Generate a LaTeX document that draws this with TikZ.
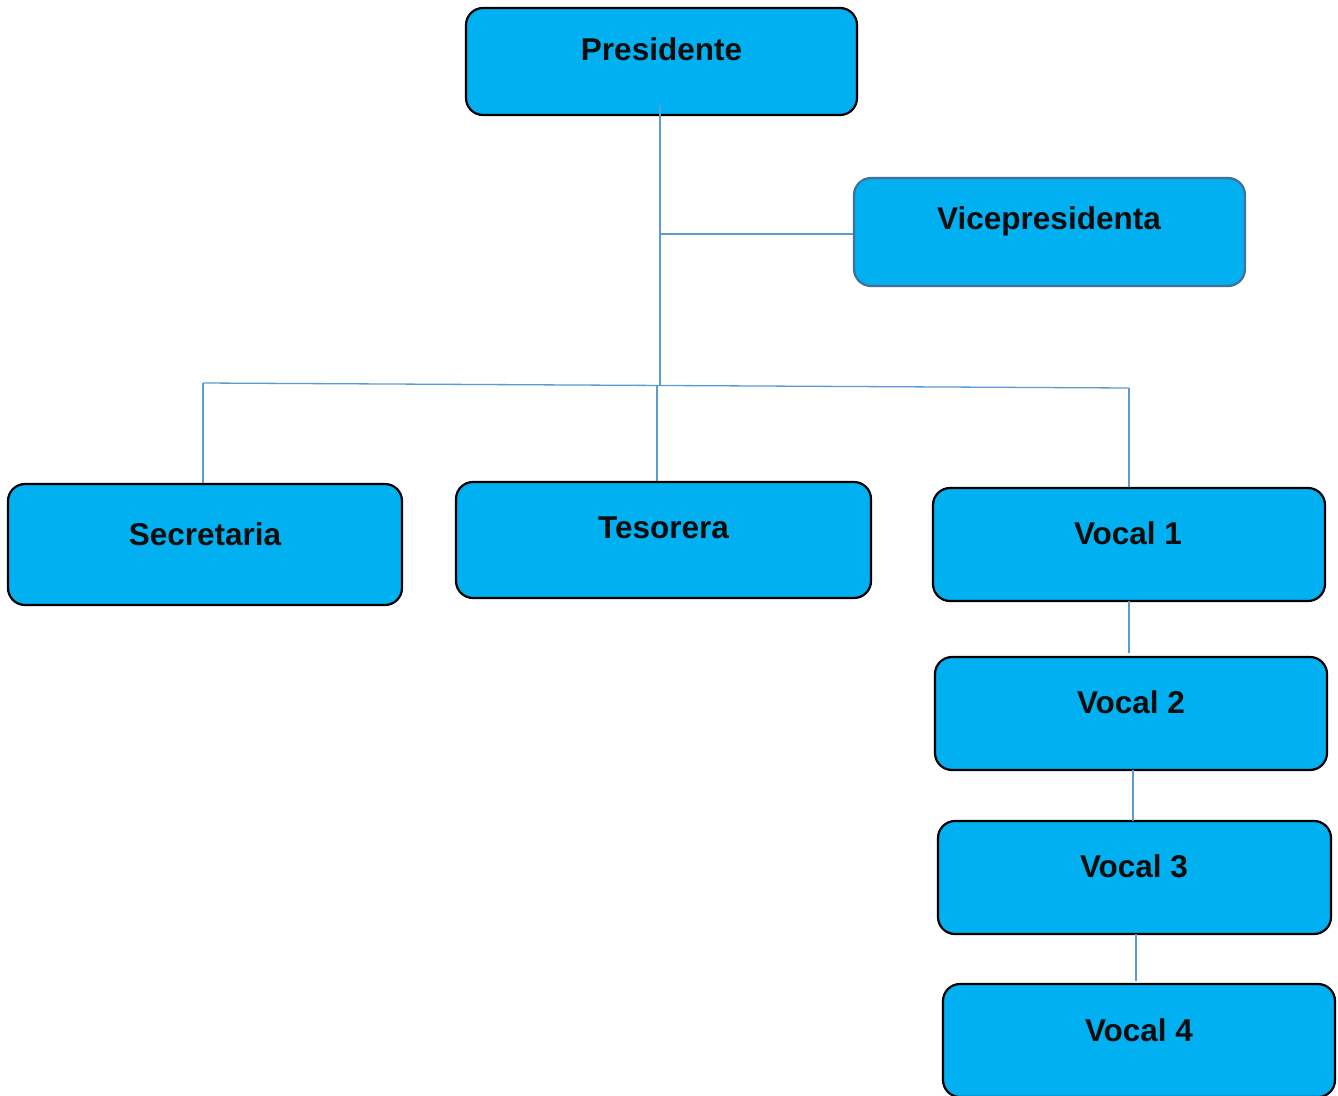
\documentclass[tikz,border=0pt]{standalone}
\usepackage{fontspec}
\setmainfont{Liberation Sans}
\begin{document}
\begin{tikzpicture}[x=1pt,y=-1pt,
  box/.style={draw=black, line width=2.2pt, fill=boxblue, rounded corners=17pt, inner sep=0pt},
  vbox/.style={box, draw=vborder},
  lbl/.style={font=\fontsize{31.5}{36}\selectfont\bfseries, text=black!95, inner sep=0pt},
  conn/.style={draw=linkblue, line width=1.3pt}]
\definecolor{boxblue}{HTML}{00B0F0}
\definecolor{vborder}{HTML}{41719C}
\definecolor{linkblue}{HTML}{5B9BD5}
\useasboundingbox (0,0) rectangle (1338,1095);
\clip (0,0) rectangle (1338,1095);
% boxes
\node[box, minimum width=391pt, minimum height=107pt] (pres) at (661.5,61.5) {};
\node[vbox, minimum width=391pt, minimum height=108pt] (vice) at (1049.5,232) {};
\node[box, minimum width=394pt, minimum height=121pt] (sec) at (205,544.5) {};
\node[box, minimum width=415pt, minimum height=116pt] (tes) at (663.5,540) {};
\node[box, minimum width=392pt, minimum height=113pt] (v1) at (1129,544.5) {};
\node[box, minimum width=392pt, minimum height=113pt] (v2) at (1131,713.5) {};
\node[box, minimum width=393pt, minimum height=113pt] (v3) at (1134.5,877.5) {};
\node[box, minimum width=392pt, minimum height=113pt] (v4) at (1139,1040.5) {};
% connectors
\coordinate (top) at (660,105);
\coordinate (mid) at (660,234);
\coordinate (bus) at (660,385);
\coordinate (busL) at (203,383);
\coordinate (busT) at (657,385);
\coordinate (busR) at (1129,388);
\draw[conn] (top) -- (bus);
\draw[conn] (mid) -- (vice.west |- mid);
\draw[conn] (busL) -- (busR);
\draw[conn] (busL) -- (sec.north -| busL);
\draw[conn] (busT) -- (tes.north -| busT);
\draw[conn] (busR) -- (v1.north -| busR);
\draw[conn] (1129,601) -- (1129,653);
\draw[conn] (1133,770) -- (1133,821);
\draw[conn] (1136,934) -- (1136,981);
% labels
\node[lbl] (tpres) at (661.5,49) {Presidente};
\node[lbl] (tvice) at (1049,221) {Vicepresidenta};
\node[lbl] (tsec) at (205,534) {Secretaria};
\node[lbl] (ttes) at (663.5,528) {Tesorera};
\node[lbl] (tv1) at (1128,533) {Vocal 1};
\node[lbl] (tv2) at (1131,702) {Vocal 2};
\node[lbl] (tv3) at (1134,866) {Vocal 3};
\node[lbl] (tv4) at (1139,1030) {Vocal 4};
\end{tikzpicture}
\end{document}
